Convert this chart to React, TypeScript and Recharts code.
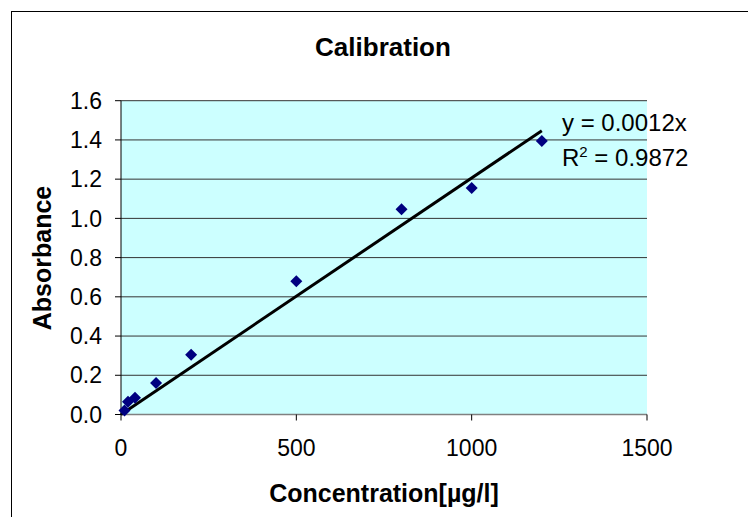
import React from "react";
import {
  ScatterChart,
  Scatter,
  XAxis,
  YAxis,
  CartesianGrid,
  Label,
} from "recharts";

// calibration standards
const concentration = [10, 20, 40, 100, 200, 500, 800, 1000, 1200];
const absorbance = [0.02, 0.065, 0.085, 0.16, 0.305, 0.68, 1.047, 1.155, 1.395];

// fitted trend line endpoints (y = 0.0012x)
const trendX = [0, 1200];
const trendY = [0, 1.447];

const xTicks = [0, 500, 1000, 1500];
const yTicks = [0, 0.2, 0.4, 0.6, 0.8, 1.0, 1.2, 1.4, 1.6];

const points = concentration.map((x, i) => ({ x, y: absorbance[i] }));
const trend = trendX.map((x, i) => ({ x, y: trendY[i] }));

const FONT = "'Liberation Sans', Arial, sans-serif";

function Diamond(props: any) {
  const { cx, cy } = props;
  const r = 6;
  return (
    <polygon
      points={`${cx},${cy - r} ${cx + r},${cy} ${cx},${cy + r} ${cx - r},${cy}`}
      fill="#000080"
    />
  );
}

export default function App() {
  return (
    <div style={{ position: "absolute", left: 0, top: 0, width: 748, height: 517, overflow: "hidden", background: "#fff" }}>
      <div
        style={{
          position: "absolute",
          left: 11,
          top: 11,
          width: 800,
          height: 600,
          border: "1.5px solid #000",
          pointerEvents: "none",
        }}
      />
      <ScatterChart
        width={748}
        height={517}
        margin={{ top: 100.7, right: 101, bottom: 72.5, left: 61 }}
        style={{ fontFamily: FONT }}
      >
        <CartesianGrid vertical={false} stroke="#333" fill="#ccffff" fillOpacity={1} />
        <XAxis
          type="number"
          dataKey="x"
          domain={[0, 1500]}
          ticks={xTicks}
          height={30}
          tickSize={6}
          tickMargin={19}
          axisLine={{ stroke: "#808080", strokeWidth: 1.5 }}
          tickLine={{ stroke: "#000" }}
          tick={{ fill: "#000", fontSize: 23, fontFamily: FONT }}
        >
          <Label
            content={() => (
              <text x={384} y={502} textAnchor="middle" fontSize={25} fontWeight="bold" fontFamily={FONT} fill="#000">
                Concentration[µg/l]
              </text>
            )}
          />
        </XAxis>
        <YAxis
          type="number"
          dataKey="y"
          domain={[0, 1.6]}
          ticks={yTicks}
          width={60}
          tickSize={6}
          tickMargin={13}
          axisLine={{ stroke: "#000" }}
          tickLine={{ stroke: "#000" }}
          tickFormatter={(v: number) => v.toFixed(1)}
          tick={{ fill: "#000", fontSize: 23, fontFamily: FONT }}
        >
          <Label
            content={() => (
              <text
                x={42}
                y={258}
                textAnchor="middle"
                dominantBaseline="central"
                transform="rotate(-90, 42, 258)"
                fontSize={25}
                fontWeight="bold"
                fontFamily={FONT}
                fill="#000"
              >
                Absorbance
              </text>
            )}
          />
        </YAxis>
        <Scatter
          data={trend}
          line={{ stroke: "#000", strokeWidth: 3 }}
          shape={() => null}
          isAnimationActive={false}
        />
        <Scatter data={points} shape={<Diamond />} isAnimationActive={false} />
        <text x={383} y={56} textAnchor="middle" fontSize={26} fontWeight="bold" fontFamily={FONT} fill="#000">
          Calibration
        </text>
        <text x={562} y={131} fontSize={24} fontFamily={FONT} fill="#000">
          y = 0.0012x
        </text>
        <text x={562} y={166} fontSize={24} fontFamily={FONT} fill="#000">
          R<tspan dy={-9} fontSize={15}>2</tspan>
          <tspan dy={9}> = 0.9872</tspan>
        </text>
      </ScatterChart>
    </div>
  );
}
